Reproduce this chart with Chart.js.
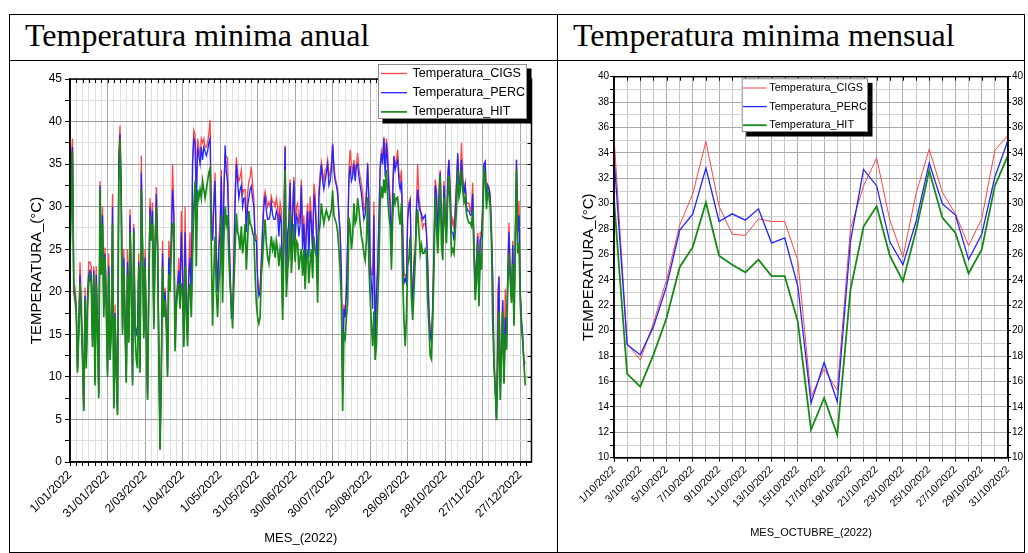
<!DOCTYPE html>
<html lang="es">
<head>
<meta charset="utf-8">
<title>Temperatura minima</title>
<script src="https://cdn.jsdelivr.net/npm/chart.js@4.4.0/dist/chart.umd.min.js"></script>
<style>
  body { margin: 0; background: #fff; width: 1028px; height: 553px; overflow: hidden; position: relative; }
  .linea { position: absolute; background: #000; }
  .titulo { position: absolute; font-family: "Liberation Serif", "Times New Roman", serif; font-size: 32px; line-height: 32px; color: #000; white-space: nowrap; }
  .grafico { position: absolute; top: 61px; height: 492px; }
</style>
</head>
<body>
<div class="linea" style="left:9px;top:14px;width:1016px;height:1px"></div>
<div class="linea" style="left:9px;top:60px;width:1016px;height:1px"></div>
<div class="linea" style="left:9px;top:14px;width:1px;height:539px"></div>
<div class="linea" style="left:557px;top:14px;width:1px;height:539px"></div>
<div class="linea" style="left:1024px;top:14px;width:1px;height:539px"></div>
<div class="linea" style="left:9px;top:552px;width:1016px;height:1px"></div>
<div class="titulo" style="left:25px;top:19px">Temperatura minima anual</div>
<div class="titulo" style="left:573px;top:19px">Temperatura minima mensual</div>
<div class="grafico" style="left:10px;width:547px"><canvas id="anual"></canvas></div>
<div class="grafico" style="left:558px;width:466px"><canvas id="mensual"></canvas></div>

<script>
// etiquetas del eje x (cada 30 dias) del grafico anual
var etiquetasAnual = ['1/01/2022', '31/01/2022', '2/03/2022', '1/04/2022', '1/05/2022', '31/05/2022',
  '30/06/2022', '30/07/2022', '29/08/2022', '28/09/2022', '28/10/2022', '27/11/2022', '27/12/2022'];

// temperatura minima diaria 2022 (dia 0 = 1/01)
var cigsAnual = [33, 35.5, 38, 21, 20.5, 18.5, 11, 16, 23.5, 19,
  13, 6.3, 20.5, 12, 20, 23.5, 23.5, 23, 14.5, 23,
  10, 23, 16.5, 8, 33, 23.5, 30, 18.5, 25.2, 19,
  11, 24.5, 13, 16.5, 31.5, 6.8, 18.5, 11, 6, 36.5,
  39.5, 32, 16, 25, 17, 10, 25, 15, 29.7, 22,
  10, 28, 16, 15.5, 15.5, 24.5, 11.5, 36, 26, 15.5,
  25, 16, 8, 22, 31, 27.5, 30.5, 16.5, 26, 32.3,
  27, 14, 1.8, 11, 26, 18, 20.5, 17, 11, 26,
  23.5, 27, 35, 30, 14, 19.5, 21, 24, 20, 29.5,
  24.5, 14.5, 30, 20, 16, 23, 27, 18.5, 35.5, 39,
  38.5, 31, 38, 37, 36, 38, 37.5, 38, 37, 37,
  37.5, 38.5, 40.2, 30, 26.5, 31, 34, 25, 20.5, 26,
  28, 34.3, 23, 32, 36, 35.9, 35.7, 28, 23, 18,
  17.5, 24.5, 32, 35.8, 34, 33, 33.5, 34.3, 31.5, 32,
  32, 28, 31.5, 33, 33.5, 34.7, 32.7, 31, 27, 26.5,
  22, 20, 20.5, 24, 28, 31, 31.8, 31, 30, 30.5,
  30, 31.2, 30.5, 30.5, 30, 31, 30, 28, 30.5, 29.5,
  18.5, 29, 37.2, 21.5, 25, 29, 33.2, 25, 30, 33.5,
  27, 30, 30.4, 28, 29.5, 33.2, 26.5, 29, 24, 28.5,
  30.4, 25.5, 31.2, 29, 25.5, 32.7, 31.5, 28, 22, 32,
  34, 35.2, 34, 33, 34.3, 34.5, 35.5, 33.5, 34, 35,
  37.5, 35, 33.5, 32.8, 32, 29.5, 26.9, 22.5, 8.5, 18.5,
  17.5, 20.5, 26, 34.3, 36.7, 35, 34, 35.5, 34, 35,
  36.3, 34.5, 33.5, 32.7, 31.5, 29.5, 30, 32, 35.2, 31,
  24, 22, 22, 30.6, 14.5, 20, 23, 29, 35, 36.5,
  35.5, 38.2, 34.5, 38, 36.3, 33, 31, 25, 32.7, 36,
  35, 35.5, 36.7, 34, 33, 34.3, 28, 22, 22, 21.5,
  29.5, 30.5, 31, 23, 18.5, 24, 25, 30.4, 35, 31,
  30, 28.5, 27.5, 28, 28, 27, 24, 18, 15.5, 14.5,
  18.5, 26, 33.2, 32, 27, 32, 34.3, 28.5, 27, 33,
  28.5, 27.5, 34, 35.5, 32.3, 27.5, 28.5, 27.5, 30, 32.8,
  36, 33.2, 33.5, 37.5, 33.5, 32, 32.8, 30.5, 30.4, 30.4,
  29.5, 30, 32.8, 26, 20.5, 23.7, 26.9, 19.5, 27, 27,
  30.5, 35, 35.3, 31, 32.6, 32.3, 31.5, 27.5, 21.8, 12,
  8.8, 5.2, 20, 21.8, 9, 14, 19, 10, 20.3, 14,
  22.5, 28.1, 22.5, 19.5, 26, 17, 26.5, 35.5, 28, 30.7,
  20.5, 17, 15, 11.5, 11.8];

var percAnual = [31, 34, 37, 20.5, 19.5, 18, 11, 15.5, 22, 18,
  12.5, 6.2, 19.5, 11.5, 19, 22, 22.5, 22, 14, 22.5,
  9.5, 22, 16, 8, 32.5, 23, 29, 18, 24.5, 18.5,
  10.5, 23, 12.5, 16, 30, 6.5, 17.5, 10.5, 5.8, 35,
  38.5, 31, 15.5, 24, 16.5, 9.5, 23.5, 14.5, 29, 21,
  9.5, 27.5, 15.5, 15, 16, 23.5, 11, 34, 25.5, 15,
  24, 15.5, 7.5, 21, 30, 27, 29.5, 16, 25, 31.5,
  26, 13.5, 1.6, 10.5, 24.5, 17.5, 20, 16.5, 10.5, 24,
  22, 26, 32, 29, 13.5, 19, 20.5, 22.5, 19, 27,
  22, 14, 27, 19, 15, 22, 24, 18, 35, 38,
  37.5, 30, 37, 36, 35, 37, 35.5, 37, 36.5, 36,
  36.5, 37.5, 38, 28, 26, 30, 33, 24, 20, 25,
  27, 33.5, 22, 31, 37.2, 34, 33, 27, 22.5, 16.9,
  17, 23, 30, 35, 33, 31, 32, 32.5, 30, 31,
  31, 27, 30, 31, 32, 32.4, 31, 30, 26, 26,
  21, 19.5, 20, 23.3, 27, 30, 31.3, 29.5, 28.5, 28.5,
  29, 30.4, 29, 28.5, 28.5, 29.5, 29, 26.5, 29, 28,
  18, 28, 37, 21, 26.9, 28, 32.8, 24.5, 29, 33,
  26, 29, 28.5, 26.5, 28, 32.5, 25, 28, 23, 27,
  29.5, 24, 29.5, 28, 24.5, 31.5, 30, 27, 21, 31,
  33, 35, 33, 32, 33, 34, 35, 32.5, 33, 34.3,
  37.3, 34.3, 33, 32.5, 31.5, 29, 26.9, 22, 8, 18,
  17, 20, 26, 33, 34.8, 33, 33.5, 35, 33, 34.8,
  35, 33.5, 32.5, 31.5, 30, 28.5, 29, 31, 35, 30.5,
  23, 21, 18, 29, 14, 19.4, 22.5, 28.5, 34.3, 36.3,
  35, 38, 33.5, 37.5, 35, 32, 30, 24.5, 31, 35.9,
  34.3, 35, 35.5, 33, 32, 33, 27, 21, 21.5, 21,
  28.5, 30, 30.6, 22, 18, 23, 24.5, 29.5, 32, 30,
  29.5, 29.2, 28.5, 28.8, 29, 26.9, 23, 17.5, 15, 14,
  18, 25, 32.5, 31.5, 26.5, 31, 34, 28, 26, 32.5,
  29, 27, 33, 35.5, 31.5, 27, 27, 26, 29, 32.3,
  36.3, 32.5, 33, 35.5, 33, 31.5, 32.5, 30, 29.5, 29.5,
  29, 29, 31.5, 25.5, 20, 23.7, 26.5, 19, 26, 26.5,
  30, 35, 35.3, 30.5, 32.5, 32.1, 31, 27, 21.5, 11.5,
  8.5, 5, 14, 21.8, 8.5, 13, 19, 9.5, 17, 13.5,
  22, 27, 22, 19, 25.5, 16.5, 26, 35.5, 27, 29,
  20, 16.5, 14.5, 11.5, 11.5];

var hitAnual = [24, 30, 36.5, 20, 19, 17.5, 10.5, 15, 21, 17,
  12, 6, 19, 11, 18, 21, 22, 21, 13.5, 22,
  9, 21, 15, 7.5, 32, 22, 28, 17, 24, 18,
  10, 22, 12, 15, 28, 6.3, 17, 10, 5.5, 33,
  38, 30, 15, 23, 16, 9.3, 22, 14, 27, 20,
  9, 27, 15, 12, 11, 23, 10.5, 32, 25, 14.5,
  23, 15, 7.3, 20, 29, 26, 28, 15.6, 24, 30,
  25, 13, 1.4, 10, 23, 17, 19, 16, 10, 22,
  20, 25, 28, 28, 13, 18, 20, 21, 18, 21,
  20, 13.5, 23, 17, 13.6, 20, 21, 17, 24, 30,
  33, 23, 32, 31, 32, 31, 33, 32, 31, 32,
  33, 34, 34.5, 25, 16, 22, 26.5, 20, 17, 21,
  22.6, 29, 18.7, 26, 30, 28, 29, 24, 20.6, 18.7,
  15.7, 20.6, 25, 29.2, 27, 26.5, 25, 27.7, 24.5, 26,
  28, 22.6, 26, 29.5, 28, 27.7, 27, 26.5, 22, 18.7,
  17, 16.3, 17, 22, 24, 26.5, 28.5, 25.7, 24, 23.3,
  25, 26.5, 25, 25.7, 24, 26, 25, 23, 25, 24,
  16.7, 25, 34.3, 19.4, 22.6, 24, 29.6, 22.2, 25, 28,
  23.5, 26, 25.7, 22.6, 24, 25, 21.9, 25, 20.3, 24,
  25, 21, 23.5, 25, 21.6, 26.5, 25, 24, 18.7, 27,
  28, 30.4, 29, 28, 29, 29.6, 29, 28.5, 29, 29.6,
  31.9, 29, 28.5, 28, 27, 25, 22.6, 18.7, 6, 15,
  14.5, 17, 18.7, 28.7, 27.7, 25, 26.5, 30.4, 28, 28.5,
  31, 29.7, 28, 26.5, 25.7, 24.5, 23.7, 26, 31.1, 23,
  19.4, 16, 13.6, 17.7, 12, 13.6, 18.7, 23, 30.4, 32.4,
  31, 33.2, 31.6, 34.3, 31.1, 29, 27.7, 22.6, 28.5, 31.6,
  30.4, 31, 31.1, 29, 27.9, 30.4, 21.6, 16.7, 13.6, 17.1,
  23, 24, 26.5, 19.4, 16.7, 20, 23.5, 27.9, 29.7, 27,
  24.5, 25.5, 24.5, 24.5, 25, 24.5, 19, 16, 12.5, 12.1,
  16.3, 22.6, 31.1, 27.7, 24.5, 28, 33.6, 25.5, 23.7, 31.1,
  28, 25.7, 31, 33.6, 29.7, 24.5, 25, 24.5, 27, 29.7,
  34.3, 31.1, 31.9, 34.3, 31.9, 30.5, 31.1, 29.2, 28.5, 28.1,
  28.1, 27.7, 29.7, 24.5, 19, 21.2, 25.7, 18.3, 24.5, 22.6,
  28, 34.3, 33.6, 29.7, 31.9, 31.1, 30, 25.7, 16.3, 11.5,
  8.4, 4.9, 10.7, 17.7, 7.3, 12, 17.7, 9.2, 15, 13.2,
  20.6, 24.5, 21.4, 18.7, 23.3, 16, 24.5, 34.3, 24.5, 25.7,
  18.7, 15.7, 14.1, 11.5, 9];

// octubre 2022, dias 1 a 31
var etiquetasOctubre = ['1/10/2022', '3/10/2022', '5/10/2022', '7/10/2022', '9/10/2022', '11/10/2022',
  '13/10/2022', '15/10/2022', '17/10/2022', '19/10/2022', '21/10/2022', '23/10/2022',
  '25/10/2022', '27/10/2022', '29/10/2022', '31/10/2022'];

var cigsOct = [35.3, 19, 17.7, 20.6, 24, 28.3, 30.8, 34.9, 29.8, 27.6, 27.5, 28.8, 28.6, 28.6, 25.5, 14.8,
  17, 15.3, 28, 31.4, 33.6, 28.7, 25.8, 30.8, 34.3, 30.9, 29.2, 26.7, 28.8, 34.2, 35.4];
var percOct = [33.7, 18.9, 18.1, 20.3, 23.5, 27.9, 29.2, 32.8, 28.6, 29.2, 28.7, 29.6, 26.9, 27.3, 23.5, 14.3,
  17.5, 14.4, 27, 32.7, 31.4, 27, 25.2, 28.6, 33.2, 30, 29.1, 25.6, 27.6, 32.1, 35];
var hitOct = [30.3, 16.6, 15.6, 18.1, 21, 25, 26.6, 30.1, 25.9, 25.2, 24.6, 25.6, 24.3, 24.3, 20.7, 12.2,
  14.7, 11.8, 23.2, 28.2, 29.8, 25.9, 23.9, 27.9, 32.6, 28.9, 27.7, 24.5, 26.4, 31.4, 33.8];

var rojo = '#ff4545';
var azul = '#2424ff';
var verde = '#168a16';

Chart.defaults.font.family = '"Liberation Sans", Arial, sans-serif';
Chart.defaults.color = '#000';

// pasa la lista de valores a puntos {x, y}; primerDia es el dia del primer valor
function serie(valores, primerDia) {
  return valores.map(function (v, i) { return { x: primerDia + i, y: v }; });
}

// marco negro alrededor del area y marcas hacia dentro arriba (y a la derecha si se pide)
var marco = {
  id: 'marco',
  afterDatasetsDraw: function (chart, args, op) {
    var ctx = chart.ctx, a = chart.chartArea, sx = chart.scales.x, sy = chart.scales.y;
    ctx.save();
    ctx.strokeStyle = '#000';
    ctx.lineWidth = 1;
    ctx.beginPath();
    sx.ticks.forEach(function (t) {
      var x = Math.round(sx.getPixelForValue(t.value)) + 0.5;
      ctx.moveTo(x, a.top); ctx.lineTo(x, a.top + op.largo);
    });
    if (op.derecha) {
      sy.ticks.forEach(function (t) {
        var y = Math.round(sy.getPixelForValue(t.value)) + 0.5;
        ctx.moveTo(a.right, y); ctx.lineTo(a.right - op.largo, y);
      });
    }
    ctx.stroke();
    ctx.lineWidth = 1.5;
    ctx.strokeRect(a.left, a.top, a.right - a.left, a.bottom - a.top);
    ctx.restore();
  }
};

// caja de leyenda con sombra negra
var leyenda = {
  id: 'leyenda',
  afterDraw: function (chart, args, o) {
    var ctx = chart.ctx;
    ctx.save();
    ctx.fillStyle = '#000';
    ctx.fillRect(o.x + o.sombra, o.y + o.sombra, o.ancho, o.alto);
    ctx.fillStyle = '#fff';
    ctx.fillRect(o.x, o.y, o.ancho, o.alto);
    ctx.strokeStyle = '#8c8c8c';
    ctx.lineWidth = 1;
    ctx.strokeRect(o.x + 0.5, o.y + 0.5, o.ancho - 1, o.alto - 1);
    ctx.font = o.fuente + 'px "Liberation Sans", Arial, sans-serif';
    ctx.textBaseline = 'middle';
    chart.data.datasets.forEach(function (ds, i) {
      var y = o.fila + i * o.paso;
      ctx.strokeStyle = ds.borderColor;
      ctx.lineWidth = ds.borderWidth;
      ctx.beginPath();
      ctx.moveTo(o.lineaDesde, y);
      ctx.lineTo(o.lineaHasta, y);
      ctx.stroke();
      ctx.fillStyle = '#000';
      ctx.fillText(ds.label, o.textoX, y);
    });
    ctx.restore();
  }
};

var grafAnual = new Chart(document.getElementById('anual'), {
  type: 'line',
  data: {
    datasets: [
      { label: 'Temperatura_CIGS', data: serie(cigsAnual, 0), borderColor: rojo, borderWidth: 1.3, order: 3 },
      { label: 'Temperatura_PERC', data: serie(percAnual, 0), borderColor: azul, borderWidth: 1.3, order: 2 },
      { label: 'Temperatura_HIT', data: serie(hitAnual, 0), borderColor: verde, borderWidth: 1.7, order: 1 }
    ]
  },
  options: {
    responsive: true,
    maintainAspectRatio: false,
    animation: false,
    layout: { padding: { top: 18, right: 25.5, left: 0, bottom: 0 } },
    elements: { point: { radius: 0 }, line: { tension: 0 } },
    plugins: {
      legend: { display: false },
      tooltip: { enabled: false },
      marco: { largo: 4, derecha: true },
      leyenda: { x: 368, y: 3, ancho: 149, alto: 55, sombra: 4.5, fila: 12.5, paso: 19.2,
                 lineaDesde: 371, lineaHasta: 397, textoX: 402.5, fuente: 12.6 }
    },
    scales: {
      x: {
        type: 'linear', min: 0, max: 369,
        afterFit: function (s) { s.height = 91; },
        ticks: {
          stepSize: 5, autoSkip: false, includeBounds: false, maxRotation: 45, minRotation: 45,
          padding: 2, font: { size: 12 },
          callback: function (v) { return v % 30 === 0 ? etiquetasAnual[v / 30] : ''; }
        },
        grid: {
          color: function (c) { return c.tick && c.tick.value % 30 === 0 ? '#a6a6a6' : '#e0e0e0'; },
          tickColor: '#000', tickLength: 4
        },
        border: { color: '#000', width: 1.5 },
        title: { display: true, text: 'MES_(2022)', font: { size: 13 }, padding: { top: 0, bottom: 7 } }
      },
      y: {
        min: 0, max: 45,
        afterFit: function (s) { s.width = 60; },
        ticks: {
          stepSize: 2.5, autoSkip: false, padding: 3, font: { size: 12 },
          callback: function (v) { return v % 5 === 0 ? String(v) : ''; }
        },
        grid: {
          color: function (c) { return c.tick && c.tick.value % 5 === 0 ? '#9c9c9c' : '#dedede'; },
          tickColor: '#000', tickLength: 5
        },
        border: { color: '#000', width: 1.5 },
        title: { display: true, text: 'TEMPERATURA_(°C)', font: { size: 15 }, padding: { top: 18, bottom: 0 } }
      }
    }
  },
  plugins: [marco, leyenda]
});

var grafMensual = new Chart(document.getElementById('mensual'), {
  type: 'line',
  data: {
    datasets: [
      { label: 'Temperatura_CIGS', data: serie(cigsOct, 1), borderColor: rojo, borderWidth: 1, order: 3 },
      { label: 'Temperatura_PERC', data: serie(percOct, 1), borderColor: azul, borderWidth: 1.3, order: 2 },
      { label: 'Temperatura_HIT', data: serie(hitOct, 1), borderColor: verde, borderWidth: 1.8, order: 1 }
    ]
  },
  options: {
    responsive: true,
    maintainAspectRatio: false,
    animation: false,
    layout: { padding: { top: 15.7, right: 0, left: 0, bottom: 0 } },
    elements: { point: { radius: 0 }, line: { tension: 0 } },
    plugins: {
      legend: { display: false },
      tooltip: { enabled: false },
      marco: { largo: 4, derecha: false },
      leyenda: { x: 183.7, y: 17.3, ancho: 126.3, alto: 53.7, sombra: 4.5, fila: 27, paso: 18.6,
                 lineaDesde: 185, lineaHasta: 208.7, textoX: 211.3, fuente: 10.9 }
    },
    scales: {
      x: {
        type: 'linear', min: 1, max: 31,
        afterFit: function (s) { s.height = 95.3; },
        ticks: {
          stepSize: 1, autoSkip: false, maxRotation: 45, minRotation: 45,
          padding: 2, font: { size: 10.5 },
          callback: function (v) { return v % 2 === 1 ? etiquetasOctubre[(v - 1) / 2] : ''; }
        },
        grid: {
          color: function (c) { return c.tick && c.tick.value % 2 === 1 ? '#acacac' : '#c6c6c6'; },
          tickColor: '#000', tickLength: 4
        },
        border: { color: '#000', width: 1.5 },
        title: { display: true, text: 'MES_OCTUBRE_(2022)', font: { size: 11 }, padding: { top: 0, bottom: 13.4 } }
      },
      y: {
        min: 10, max: 40,
        afterFit: function (s) { s.width = 56; },
        ticks: {
          stepSize: 1, autoSkip: false, padding: 1, font: { size: 10 },
          callback: function (v) { return v % 2 === 0 ? String(v) : ''; }
        },
        grid: {
          color: function (c) { return c.tick && c.tick.value % 2 === 0 ? '#a8a8a8' : '#d2d2d2'; },
          tickColor: '#000', tickLength: 4
        },
        border: { color: '#000', width: 1.5 },
        title: { display: true, text: 'TEMPERATURA_(°C)', font: { size: 15 }, padding: { top: 22, bottom: 0 } }
      },
      y2: {
        position: 'right', min: 10, max: 40,
        afterFit: function (s) { s.width = 16; },
        ticks: {
          stepSize: 1, autoSkip: false, padding: 1, font: { size: 10 },
          callback: function (v) { return v % 2 === 0 ? String(v) : ''; }
        },
        grid: { drawOnChartArea: false, tickColor: '#000', tickLength: 3 },
        border: { color: '#000', width: 1.5 }
      }
    }
  },
  plugins: [marco, leyenda]
});
</script>
</body>
</html>
